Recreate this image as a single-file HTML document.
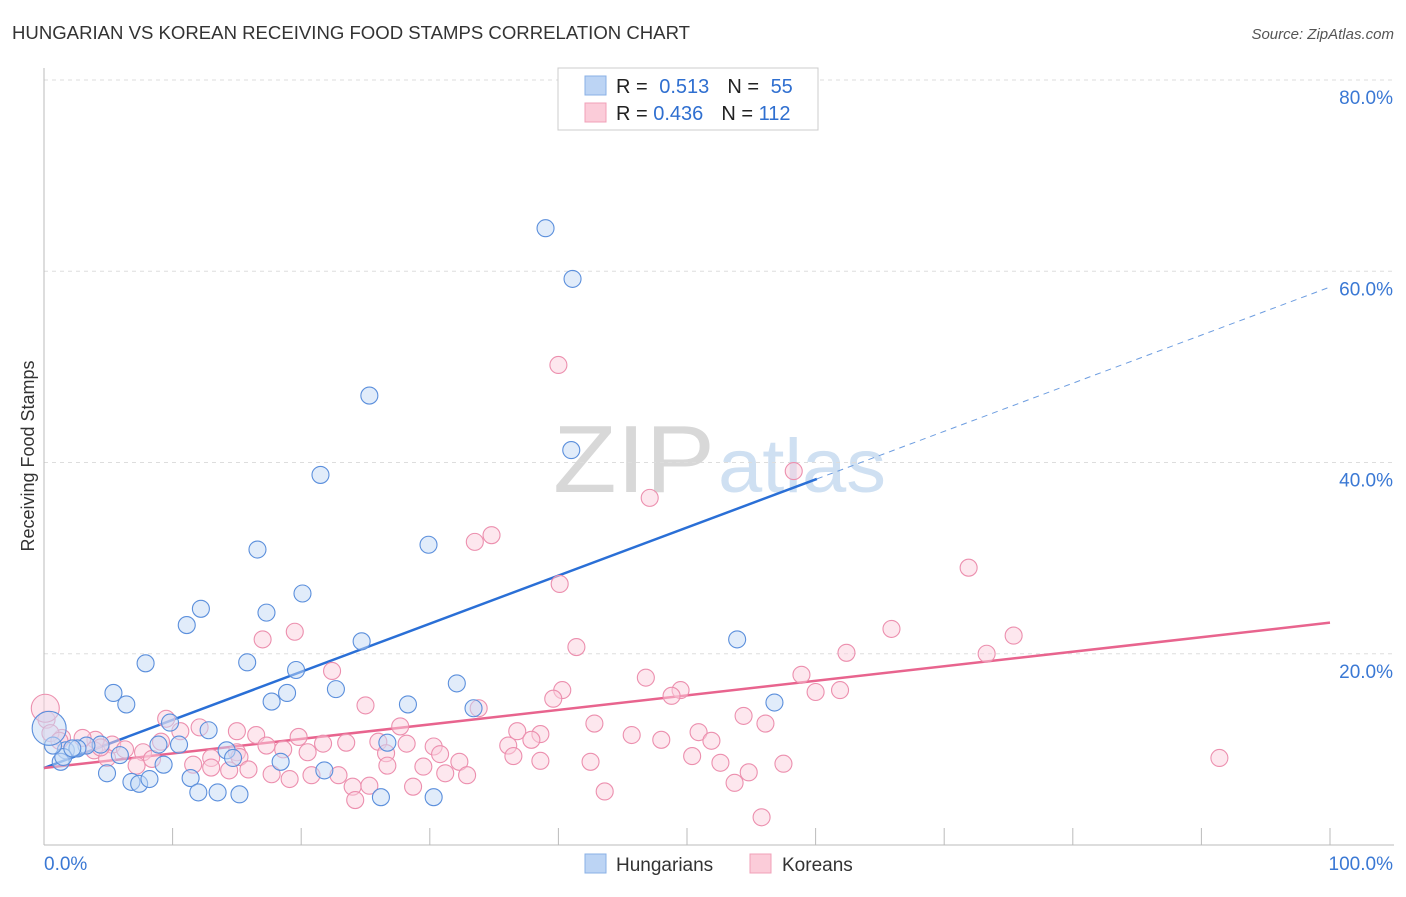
<!DOCTYPE html>
<html><head><meta charset="utf-8"><style>
body{margin:0;background:#fff;font-family:"Liberation Sans",sans-serif;}
svg text{font-family:"Liberation Sans",sans-serif;}
</style></head><body>
<svg id="chart" width="1406" height="892" xmlns="http://www.w3.org/2000/svg">
<text x="12" y="39" font-size="18" fill="#333" textLength="678" lengthAdjust="spacingAndGlyphs">HUNGARIAN VS KOREAN RECEIVING FOOD STAMPS CORRELATION CHART</text>
<text x="1394" y="39" font-size="15" fill="#555" text-anchor="end" font-style="italic">Source: ZipAtlas.com</text>
<text transform="translate(34,456) rotate(-90)" font-size="18" fill="#333" text-anchor="middle">Receiving Food Stamps</text>
<g>
<text x="553" y="492" font-size="96" fill="#d8d8d8" font-family="Liberation Serif, serif" textLength="162" lengthAdjust="spacingAndGlyphs">ZIP</text>
<text x="718" y="492" font-size="76" fill="#cfe0f2" textLength="168" lengthAdjust="spacingAndGlyphs">atlas</text>
</g>
<g id="grid"></g><g id="axes"></g><g id="trends"></g><g id="points"></g>
<g>
<rect x="558" y="68" width="260" height="62" fill="#fff" stroke="#ccc"/>
<rect x="585" y="76" width="21" height="19" fill="#bcd4f4" stroke="#8ab0e6"/>
<rect x="585" y="103" width="21" height="19" fill="#fbccd9" stroke="#f0a0b8"/>
<text x="616" y="93" font-size="20" fill="#222">R = <tspan fill="#2f6fd0" dx="6">0.513</tspan><tspan fill="#222" dx="18">N = </tspan><tspan fill="#2f6fd0" dx="6">55</tspan></text>
<text x="616" y="120" font-size="20" fill="#222">R = <tspan fill="#2f6fd0">0.436</tspan><tspan fill="#222" dx="18">N = </tspan><tspan fill="#2f6fd0">112</tspan></text>
</g>
<g>
<rect x="585" y="854" width="21" height="19" fill="#bcd4f4" stroke="#8ab0e6"/>
<text x="616" y="871" font-size="19" fill="#333">Hungarians</text>
<rect x="750" y="854" width="21" height="19" fill="#fbccd9" stroke="#f0a0b8"/>
<text x="782" y="871" font-size="19" fill="#333">Koreans</text>
</g>
</svg>
<script>
const yTicks=[20,40,60,80];
const yTickLabels=["20.0%","40.0%","60.0%","80.0%"];
const xTicks=[10,20,30,40,50,60,70,80,90,100];
const hunX=[39.0,41.1,25.3,41.0,21.5,29.9,16.6,20.1,12.2,17.3,11.1,53.9,24.7,7.9,15.8,19.6,32.1,22.7,5.4,18.9,6.4,28.3,17.7,33.4,56.8,9.8,12.8,8.9,10.5,4.4,3.3,1.7,2.6,5.9,14.2,14.7,18.4,26.7,9.3,1.3,4.9,21.8,6.8,7.4,8.2,11.4,12.0,13.5,15.2,26.2,30.3,1.5,0.7,2.2];
const hunY=[64.5,59.2,47.0,41.3,38.7,31.4,30.9,26.3,24.7,24.3,23.0,21.5,21.3,19.0,19.1,18.3,16.9,16.3,15.9,15.9,14.7,14.7,15.0,14.3,14.9,12.8,12.0,10.5,10.5,10.5,10.4,9.9,10.1,9.4,9.9,9.1,8.7,10.7,8.4,8.7,7.5,7.8,6.6,6.4,6.9,7.0,5.5,5.5,5.3,5.0,5.0,9.2,10.4,10.1];
const korX=[40.0,58.3,47.1,34.8,33.5,40.1,71.9,19.5,17.0,65.9,75.4,41.4,73.3,62.4,22.4,46.8,58.9,40.3,49.5,60.0,61.9,48.8,39.6,25.0,33.8,9.5,54.4,27.7,42.8,12.1,56.1,15.0,10.6,36.8,50.9,45.7,19.8,38.6,16.5,1.4,4.0,5.3,9.1,51.9,23.5,26.0,28.2,17.3,21.7,18.6,6.3,30.3,15.0,20.5,36.1,37.9,3.9,30.8,48.0,7.7,8.4,13.0,15.2,26.6,36.5,4.9,50.4,52.6,32.3,91.4,38.6,42.5,57.5,7.2,11.6,15.9,13.0,14.4,26.7,29.5,31.2,17.7,19.1,22.9,32.9,20.8,54.8,24.0,25.3,28.7,53.7,24.2,43.6,55.8,0.2,0.5,3.0,4.4,1.2];
const korY=[50.2,39.1,36.3,32.4,31.7,27.3,29.0,22.3,21.5,22.6,21.9,20.7,20.0,20.1,18.2,17.5,17.8,16.2,16.2,16.0,16.2,15.6,15.3,14.6,14.3,13.2,13.5,12.4,12.7,12.3,12.7,11.9,11.9,11.9,11.8,11.5,11.3,11.6,11.5,11.2,11.0,10.5,10.8,10.9,10.7,10.8,10.6,10.4,10.6,10.0,10.0,10.3,9.7,9.7,10.4,11.0,9.9,9.5,11.0,9.7,9.0,9.1,9.2,9.6,9.3,9.1,9.3,8.6,8.7,9.1,8.8,8.7,8.5,8.3,8.4,7.9,8.1,7.8,8.3,8.2,7.5,7.4,6.9,7.3,7.3,7.3,7.6,6.1,6.2,6.1,6.5,4.7,5.6,2.9,13.1,11.7,11.2,10.2,10.9];
const bigHunX=[0.4], bigHunY=[12.2];
const bigKorX=[0.1], bigKorY=[14.3];
const hunTrend=[8.05,0.503]; // intercept, slope
const korTrend=[8.05,0.152];
const hunSolidEnd=60.1;

const NS="http://www.w3.org/2000/svg";
const sx=v=>44+v*12.86;
const sy=v=>845-v*9.5625;
function mk(tag,attrs,parent){const e=document.createElementNS(NS,tag);for(const k in attrs)e.setAttribute(k,attrs[k]);parent.appendChild(e);return e;}
const grid=document.getElementById('grid'),axes=document.getElementById('axes'),trends=document.getElementById('trends'),pts=document.getElementById('points');
yTicks.forEach((t,i)=>{
 const l=mk('line',{x1:44,x2:1394,y1:sy(t),y2:sy(t),stroke:'#ddd','stroke-dasharray':'4,4'},grid);
 
 
 const tx=mk('text',{x:1393,y:sy(t)+24,'font-size':19,fill:'#3a78d4','text-anchor':'end'},axes);
 tx.textContent=yTickLabels[i];
 
 
});
const ax=mk('line',{x1:44,x2:1394,y1:845,y2:845,stroke:'#bbb'},axes);


const ay=mk('line',{x1:44,x2:44,y1:68,y2:845,stroke:'#bbb'},axes);


xTicks.forEach(t=>{
 const l=mk('line',{x1:sx(t),x2:sx(t),y1:828,y2:845,stroke:'#bbb'},axes);
 
 
});
const x0=mk('text',{x:44,y:870,'font-size':19,fill:'#3a78d4'},axes);x0.textContent='0.0%';


const x1=mk('text',{x:1393,y:870,'font-size':19,fill:'#3a78d4','text-anchor':'end'},axes);x1.textContent='100.0%';



function dot(x,y,r,fill,stroke,name){
 const c=mk('circle',{cx:sx(x),cy:sy(y),r:r,fill:fill,'fill-opacity':0.5,stroke:stroke,'stroke-width':1.1},pts);
 
 
}
korX.forEach((x,i)=>dot(x,korY[i],8.5,'#fbd0dd','#ec8fae','korean-point'));
bigKorX.forEach((x,i)=>dot(x,bigKorY[i],14,'#fbd0dd','#ec8fae','korean-point'));
hunX.forEach((x,i)=>dot(x,hunY[i],8.5,'#c4d9f5','#5b8fdc','hungarian-point'));
bigHunX.forEach((x,i)=>dot(x,bigHunY[i],17,'#c4d9f5','#5b8fdc','hungarian-point'));

const ht=v=>hunTrend[0]+hunTrend[1]*v, kt=v=>korTrend[0]+korTrend[1]*v;
let l=mk('line',{x1:sx(0),y1:sy(ht(0)),x2:sx(hunSolidEnd),y2:sy(ht(hunSolidEnd)),stroke:'#2a6fd6','stroke-width':2.5},trends);


l=mk('line',{x1:sx(hunSolidEnd),y1:sy(ht(hunSolidEnd)),x2:sx(100),y2:sy(ht(100)),stroke:'#6d9de0','stroke-width':1,'stroke-dasharray':'6,5'},trends);


l=mk('line',{x1:sx(0),y1:sy(kt(0)),x2:sx(100),y2:sy(kt(100)),stroke:'#e8648e','stroke-width':2.5},trends);


</script>
</body></html>
